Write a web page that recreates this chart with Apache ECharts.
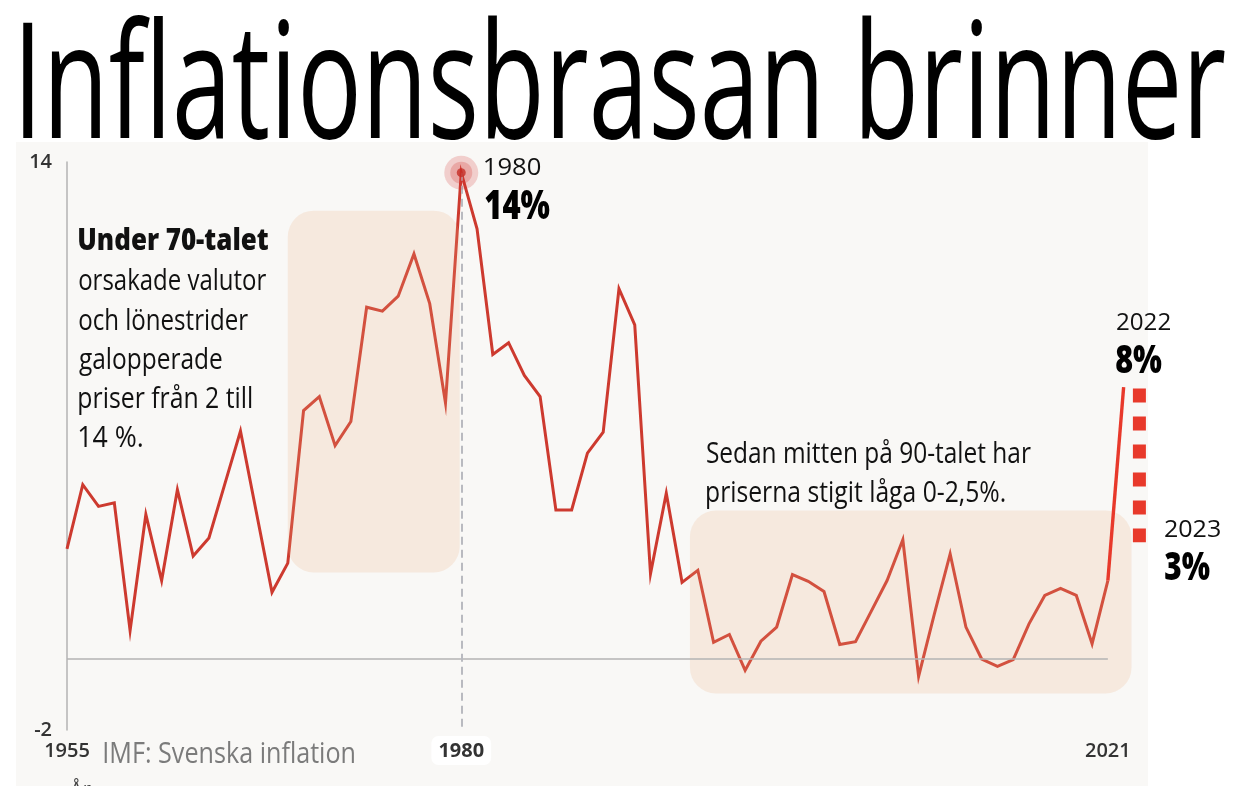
<!DOCTYPE html>
<html>
<head>
<meta charset="utf-8">
<script src="https://cdn.jsdelivr.net/npm/echarts@6/dist/echarts.min.js"></script>
<style>
html,body{margin:0;padding:0;background:#fff;overflow:hidden;}
#chart{width:1246px;height:786px;}
</style>
</head>
<body>
<div id="chart"></div>
<script>
// ---- data ----
const startYear = 1955;
const inflation = [
  3.10, 4.91, 4.30, 4.40, 0.80, 4.07, 2.21, 4.77, 2.90, 3.41,
  4.92, 6.42, 4.15, 1.88, 2.70, 7.00, 7.39, 6.01, 6.69, 9.91,
  9.80, 10.22, 11.41, 10.01, 7.21, 13.70, 12.12, 8.58, 8.91, 7.99,
  7.39, 4.20, 4.20, 5.80, 6.39, 10.43, 9.41, 2.40, 4.67, 2.16,
  2.50, 0.47, 0.69, -0.32, 0.50, 0.90, 2.38, 2.19, 1.90, 0.41,
  0.49, 1.35, 2.21, 3.36, -0.49, 1.27, 2.96, 0.90, 0.00, -0.21,
  -0.02, 0.99, 1.79, 1.99, 1.79, 0.43, 2.21
];
const years = inflation.map((_, i) => startYear + i);
const recentYears = [2021, 2022];
const recentValues = [2.21, 7.66];
const forecastYears = [2023, 2023];
const forecastValues = [7.62, 3.29];
const peakYear = 1980;
const peakValue = 13.70;
const xTickLabels = [1955, 1980, 2021];
const yTickLabels = [-2, 14];
const highlightStart = [1969.0, 1994.5];
const highlightEnd = [1979.9, 2022.5];
const highlightLow = [2.44, -0.97];
const highlightHigh = [12.63, 4.18];

// ---- text helper (fit condensed lettering by horizontal scaling) ----
const mctx = document.createElement('canvas').getContext('2d');
function txt(text, o) {
  const fam = o.family || '"Open Sans"';
  const font = (o.weight || 400) + ' ' + o.size + 'px ' + fam;
  mctx.font = font;
  mctx.textBaseline = 'middle';
  const m = mctx.measureText(text);
  const inkW = m.actualBoundingBoxRight + m.actualBoundingBoxLeft;
  const sx = o.width ? o.width / inkW : 1;
  const h = mctx.measureText('H');
  const dy = h.actualBoundingBoxDescent;
  return {
    type: 'text', z: 100,
    x: o.left + m.actualBoundingBoxLeft * sx,
    y: o.baseline - dy,
    scaleX: sx,
    style: { text: text, font: font, fill: o.color || '#111', align: 'left', verticalAlign: 'middle' }
  };
}

const graphics = [
  { type: 'rect', z: -10, shape: { x: 16, y: 142, width: 1132, height: 644 }, style: { fill: '#f9f8f6' } },
  txt('Inflationsbrasan brinner', { left: 22.7, baseline: 137.7, width: 1202, size: 162, weight: 500, color: '#000' }),
  txt('Under 70-talet', { left: 79, baseline: 250, width: 189, size: 30, weight: 800 }),
  txt('orsakade valutor', { left: 79, baseline: 290, width: 187, size: 30, weight: 500 }),
  txt('och lönestrider', { left: 79, baseline: 330, width: 169, size: 30, weight: 500 }),
  txt('galopperade', { left: 79, baseline: 368.5, width: 143, size: 30, weight: 500 }),
  txt('priser från 2 till', { left: 79, baseline: 408, width: 173, size: 30, weight: 500 }),
  txt('14 %.', { left: 79, baseline: 447, width: 63, size: 30, weight: 500 }),
  txt('Sedan mitten på 90-talet har', { left: 706.7, baseline: 463.3, width: 324, size: 30, weight: 500 }),
  txt('priserna stigit låga 0-2,5%.', { left: 706.7, baseline: 502.3, width: 298, size: 30, weight: 500 }),
  txt('IMF: Svenska inflation', { left: 104, baseline: 763.3, width: 250, size: 30, weight: 500, color: '#7b7b7b' }),
  txt('1980', { left: 485, baseline: 175, width: 55, size: 23 }),
  txt('14%', { left: 485, baseline: 219, width: 65, size: 40, weight: 800, color: '#000' }),
  txt('2022', { left: 1117, baseline: 330, width: 53, size: 23 }),
  txt('8%', { left: 1116, baseline: 373, width: 46, size: 39, weight: 800, color: '#000' }),
  txt('2023', { left: 1165, baseline: 537, width: 55, size: 23 }),
  txt('3%', { left: 1165, baseline: 580, width: 45, size: 39, weight: 800, color: '#000' }),
  txt('År', { left: 70, baseline: 796, size: 20, color: '#444' })
];

const chart = echarts.init(document.getElementById('chart'), null, { renderer: 'canvas' });
const option = {
  animation: false,
  backgroundColor: '#ffffff',
  grid: { left: 67, top: 162, width: 1072.4, height: 568 },
  xAxis: {
    type: 'value', min: 1955, max: 2023,
    axisLine: { show: false, onZero: false },
    axisTick: { show: false },
    splitLine: { show: false },
    axisLabel: {
      customValues: xTickLabels,
      margin: 6,
      formatter: v => (v === 1980 ? '{b|' + v + '}' : '{a|' + v + '}'),
      rich: {
        a: { fontFamily: '"Open Sans"', fontSize: 20, fontWeight: 600, color: '#333', padding: [5, 6, 3, 6] },
        b: { fontFamily: '"Open Sans"', fontSize: 20, fontWeight: 700, color: '#333', backgroundColor: '#ffffff', borderRadius: 7, padding: [5, 7, 4, 7] }
      }
    }
  },
  yAxis: {
    type: 'value', min: -2, max: 14,
    axisLine: { show: true, lineStyle: { color: '#b3b3b3', width: 1.5 } },
    axisTick: { show: false },
    splitLine: { show: false },
    axisLabel: { customValues: yTickLabels, margin: 15, color: '#333', fontSize: 20, fontWeight: 600, fontFamily: '"Open Sans"' }
  },
  graphic: graphics,
  series: [
    {
      type: 'custom', z: 3, silent: true, clip: false,
      data: highlightStart.map((s, i) => [s, highlightEnd[i], highlightLow[i], highlightHigh[i]]),
      encode: { x: [0, 1], y: [2, 3] },
      renderItem: function (params, api) {
        const p0 = api.coord([api.value(0), api.value(3)]);
        const p1 = api.coord([api.value(1), api.value(2)]);
        return {
          type: 'rect',
          shape: { x: p0[0], y: p0[1], width: p1[0] - p0[0], height: p1[1] - p0[1], r: 26 },
          style: { fill: 'rgba(234,173,131,0.2)' }
        };
      }
    },
    {
      type: 'line', z: 2, symbol: 'none', silent: true,
      data: years.map((y, i) => [y, inflation[i]]),
      lineStyle: { color: '#cd3a2f', width: 3, join: 'miter' },
      markLine: {
        silent: true, symbol: ['none', 'none'], label: { show: false },
        data: [
          [{ coord: [years[0], 0], lineStyle: { color: '#b3b3b3', width: 1.5, type: 'solid' } }, { coord: [years[years.length - 1], 0] }],
          [{ coord: [peakYear, peakValue], lineStyle: { color: '#b9bac0', width: 2, type: [8, 5] } }, { coord: [peakYear, -2] }]
        ]
      }
    },
    {
      type: 'line', z: 4, symbol: 'none', silent: true,
      data: recentYears.map((y, i) => [y, recentValues[i]]),
      lineStyle: { color: '#e8392b', width: 3.4 }
    },
    {
      type: 'line', z: 4, symbol: 'none', silent: true,
      data: forecastYears.map((y, i) => [y, forecastValues[i]]),
      lineStyle: { color: '#e8392b', width: 13, type: [14, 14], cap: 'butt' }
    },
    {
      type: 'scatter', z: 6, silent: true,
      data: [
        { value: [peakYear, peakValue], symbolSize: 34, itemStyle: { color: 'rgba(210,50,45,0.26)' } },
        { value: [peakYear, peakValue], symbolSize: 22, itemStyle: { color: 'rgba(210,50,45,0.3)' } },
        { value: [peakYear, peakValue], symbolSize: 9, itemStyle: { color: '#c62d26' } }
      ]
    }
  ]
};
chart.setOption(option);
</script>
</body>
</html>
